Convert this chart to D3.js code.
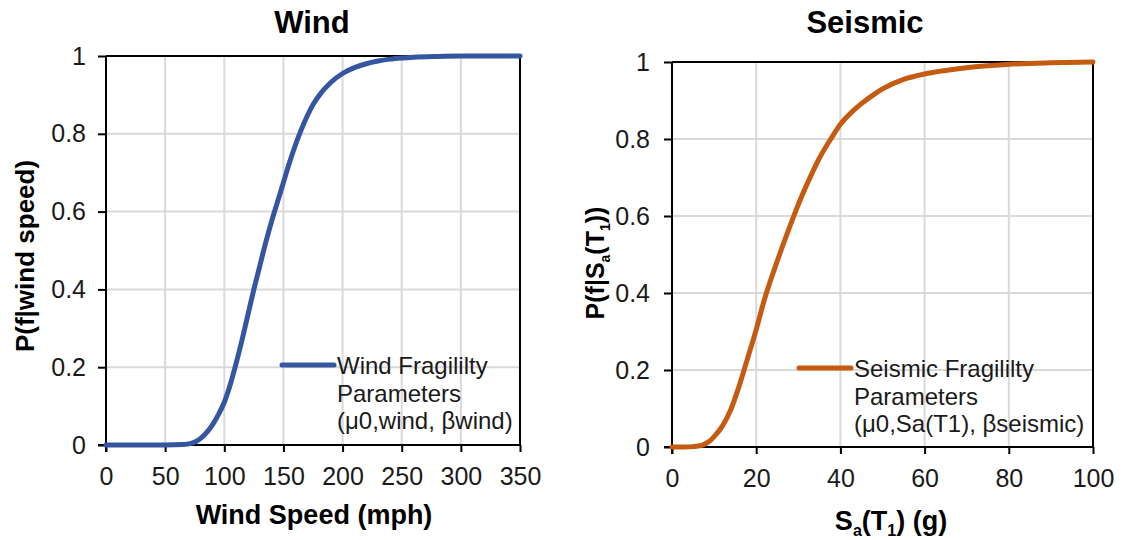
<!DOCTYPE html>
<html>
<head>
<meta charset="utf-8">
<script src="https://cdn.jsdelivr.net/npm/d3@7"></script>
<style>
  html, body { margin: 0; padding: 0; background: #fff; }
  svg { display: block; font-family: "Liberation Sans", Arial, sans-serif; }
</style>
</head>
<body>
<svg id="chart" width="1123" height="540"></svg>
<script>
// Wind fragility curve: wind speed (mph) vs probability of failure
const windSpeed = [0, 50, 65, 72, 76, 80, 85, 90, 95, 100, 105, 110, 115, 120, 125, 130, 135, 140, 145, 150, 155, 160, 165, 170, 175, 180, 190, 200, 210, 220, 230, 240, 250, 260, 280, 300, 350];
const windProb  = [0, 0, 0.001, 0.004, 0.009, 0.017, 0.032, 0.052, 0.078, 0.11, 0.155, 0.21, 0.27, 0.335, 0.40, 0.46, 0.52, 0.575, 0.625, 0.675, 0.725, 0.77, 0.81, 0.845, 0.875, 0.898, 0.932, 0.955, 0.97, 0.98, 0.987, 0.992, 0.995, 0.997, 0.999, 1, 1];

// Seismic fragility curve: Sa(T1) (g) vs probability of failure
const seismicSa   = [0, 3, 5, 7, 8, 9, 10, 12, 14, 16, 18, 20, 22, 25, 28, 30, 33, 35, 38, 40, 43, 45, 48, 50, 55, 60, 65, 70, 75, 80, 90, 100];
const seismicProb = [0, 0, 0.001, 0.004, 0.009, 0.016, 0.027, 0.055, 0.098, 0.16, 0.232, 0.305, 0.385, 0.483, 0.573, 0.63, 0.705, 0.75, 0.805, 0.838, 0.873, 0.892, 0.916, 0.93, 0.955, 0.969, 0.978, 0.985, 0.99, 0.994, 0.998, 1];

const windTicks    = [0, 50, 100, 150, 200, 250, 300, 350];
const seismicTicks = [0, 20, 40, 60, 80, 100];
const probTicks    = [0, 0.2, 0.4, 0.6, 0.8, 1];

const svg = d3.select("#chart");

function drawPanel(cfg) {
  const x = d3.scaleLinear().domain(cfg.xDomain).range([cfg.left, cfg.right]);
  const y = d3.scaleLinear().domain([0, 1]).range([cfg.bottom, cfg.top]);
  const g = svg.append("g");

  // gridlines
  g.append("g").selectAll("line.vg")
    .data(cfg.xTicks.slice(1, -1)).join("line")
    .attr("x1", d => x(d)).attr("x2", d => x(d))
    .attr("y1", cfg.top).attr("y2", cfg.bottom)
    .attr("stroke", "#d9d9d9").attr("stroke-width", 2);
  g.append("g").selectAll("line.hg")
    .data(probTicks.slice(1, -1)).join("line")
    .attr("y1", d => y(d)).attr("y2", d => y(d))
    .attr("x1", cfg.left).attr("x2", cfg.right)
    .attr("stroke", "#d9d9d9").attr("stroke-width", 2);

  // frame (top and right)
  g.append("path")
    .attr("d", `M${cfg.left},${cfg.top}H${cfg.right}V${cfg.bottom}`)
    .attr("fill", "none").attr("stroke", "#000").attr("stroke-width", 2);

  // axes
  const xAxis = d3.axisBottom(x).tickValues(cfg.xTicks).tickFormat(d3.format("d"))
    .tickSizeOuter(0).tickSize(7).tickPadding(15);
  const yAxis = d3.axisLeft(y).tickValues(probTicks).tickFormat(d => d === 0 || d === 1 ? String(d) : d.toFixed(1))
    .tickSizeOuter(0).tickSize(8).tickPadding(cfg.yPad);

  const gx = g.append("g").attr("transform", `translate(0,${cfg.bottom})`).call(xAxis);
  const gy = g.append("g").attr("transform", `translate(${cfg.left},0)`).call(yAxis);
  [gx, gy].forEach(a => {
    a.select(".domain").attr("stroke", "#000").attr("stroke-width", 2);
    a.selectAll(".tick line").attr("stroke", "#000").attr("stroke-width", 2);
    a.selectAll(".tick text").attr("fill", "#1a1a1a")
      .style("font-size", "25px").style("font-family", "'Liberation Sans', Arial, sans-serif");
  });
  // extend axis lines so the corner ticks cross
  gx.select(".domain").attr("d", `M${cfg.left - 8},0H${cfg.right}`);
  gy.select(".domain").attr("d", `M0,${cfg.top}V${cfg.bottom + 7}`);

  // curve
  const line = d3.line().x(d => x(d[0])).y(d => y(d[1])).curve(d3.curveMonotoneX);
  g.append("path")
    .datum(d3.zip(cfg.xs, cfg.ys))
    .attr("d", line)
    .attr("fill", "none").attr("stroke", cfg.color).attr("stroke-width", 5)
    .attr("stroke-linejoin", "round").attr("stroke-linecap", "round");

  // title
  g.append("text").attr("x", cfg.titleX).attr("y", 33)
    .attr("text-anchor", "middle").style("font-size", "31px").style("font-weight", "bold")
    .attr("fill", "#000").text(cfg.title);

  // legend
  const lg = g.append("g");
  lg.append("line")
    .attr("x1", cfg.legend.x).attr("x2", cfg.legend.x + 52)
    .attr("y1", cfg.legend.y).attr("y2", cfg.legend.y)
    .attr("stroke", cfg.color).attr("stroke-width", 5).attr("stroke-linecap", "round");
  lg.selectAll("text").data(cfg.legend.lines).join("text")
    .attr("x", cfg.legend.x + 55)
    .attr("y", (d, i) => cfg.legend.y + 9 + i * 27.5)
    .style("font-size", "24px").attr("fill", "#1a1a1a")
    .text(d => d);

  return { x, y, g };
}

// Wind panel
const wind = drawPanel({
  left: 106, right: 520, top: 56, bottom: 445,
  xDomain: [0, 350], xTicks: windTicks, yPad: 12,
  xs: windSpeed, ys: windProb, color: "#3456a0",
  title: "Wind", titleX: 312,
  legend: { x: 282, y: 365, lines: ["Wind Fragililty", "Parameters", "(\u03bc0,wind, \u03b2wind)"] }
});

wind.g.append("text").attr("x", 314).attr("y", 524)
  .attr("text-anchor", "middle").style("font-size", "27px").style("font-weight", "bold")
  .text("Wind Speed (mph)");
wind.g.append("text").attr("transform", "translate(34,256) rotate(-90)")
  .attr("text-anchor", "middle").style("font-size", "26px").style("font-weight", "bold")
  .text("P(f|wind speed)");

// Seismic panel
const seis = drawPanel({
  left: 672, right: 1093, top: 62, bottom: 447,
  xDomain: [0, 100], xTicks: seismicTicks, yPad: 14,
  xs: seismicSa, ys: seismicProb, color: "#c55a11",
  title: "Seismic", titleX: 865,
  legend: { x: 799, y: 368, lines: ["Seismic Fragililty", "Parameters", "(\u03bc0,Sa(T1), \u03b2seismic)"] }
});

const xt = seis.g.append("text").attr("x", 891).attr("y", 530)
  .attr("text-anchor", "middle").style("font-size", "27px").style("font-weight", "bold");
xt.append("tspan").text("S");
xt.append("tspan").attr("dy", 6).style("font-size", "16px").text("a");
xt.append("tspan").attr("dy", -6).text("(T");
xt.append("tspan").attr("dy", 6).style("font-size", "16px").text("1");
xt.append("tspan").attr("dy", -6).text(") (g)");

const yt = seis.g.append("text").attr("transform", "translate(604,263) rotate(-90)")
  .attr("text-anchor", "middle").style("font-size", "25px").style("font-weight", "bold");
yt.append("tspan").text("P(f|S");
yt.append("tspan").attr("dy", 6).style("font-size", "14px").text("a");
yt.append("tspan").attr("dy", -6).text("(T");
yt.append("tspan").attr("dy", 6).style("font-size", "14px").text("1");
yt.append("tspan").attr("dy", -6).text("))");
</script>
</body>
</html>
